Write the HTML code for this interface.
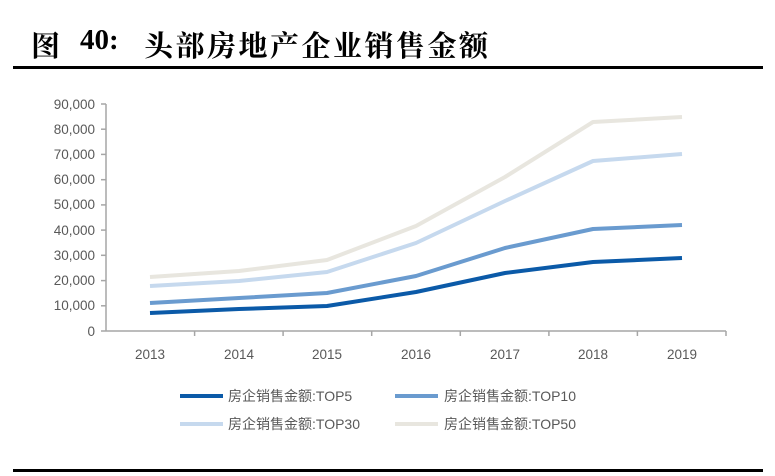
<!DOCTYPE html>
<html><head><meta charset="utf-8"><style>
body{margin:0;background:#fff;width:775px;height:476px;overflow:hidden;position:relative;font-family:"Liberation Sans","Noto Sans CJK SC",sans-serif}
.t{position:absolute;top:24px;font:bold 29px "Liberation Serif","Noto Serif CJK SC",serif;color:#000;white-space:nowrap}
.r{position:absolute;left:13px;width:750px;height:3px;background:#000}
</style></head><body>
<div class="t" style="left:31px">图</div>
<div class="t" style="left:80px">40:</div>
<div class="t" style="left:144px;letter-spacing:2.5px">头部房地产企业销售金额</div>
<div class="r" style="top:66px"></div>
<div class="r" style="top:469px"></div>
<svg width="775" height="476" style="position:absolute;left:0;top:0" font-family="Liberation Sans, Noto Sans CJK SC, sans-serif">
<g stroke="#a6a6a6" stroke-width="1.5" fill="none">
<line x1="106" y1="104" x2="106" y2="331"/>
<line x1="106" y1="331" x2="726" y2="331"/>
<g>
<line x1="101" y1="104" x2="106" y2="104"/><line x1="101" y1="129.2" x2="106" y2="129.2"/><line x1="101" y1="154.4" x2="106" y2="154.4"/><line x1="101" y1="179.7" x2="106" y2="179.7"/><line x1="101" y1="204.9" x2="106" y2="204.9"/><line x1="101" y1="230.1" x2="106" y2="230.1"/><line x1="101" y1="255.3" x2="106" y2="255.3"/><line x1="101" y1="280.6" x2="106" y2="280.6"/><line x1="101" y1="305.8" x2="106" y2="305.8"/><line x1="101" y1="331" x2="106" y2="331"/>
<line x1="194.6" y1="331" x2="194.6" y2="336"/><line x1="283.1" y1="331" x2="283.1" y2="336"/><line x1="371.7" y1="331" x2="371.7" y2="336"/><line x1="460.3" y1="331" x2="460.3" y2="336"/><line x1="548.9" y1="331" x2="548.9" y2="336"/><line x1="637.4" y1="331" x2="637.4" y2="336"/><line x1="726" y1="331" x2="726" y2="336"/>
</g></g>
<g font-size="13.5" fill="#595959" text-anchor="end">
<text x="95" y="109">90,000</text><text x="95" y="134">80,000</text><text x="95" y="159">70,000</text><text x="95" y="184">60,000</text><text x="95" y="209">50,000</text><text x="95" y="235">40,000</text><text x="95" y="260">30,000</text><text x="95" y="285">20,000</text><text x="95" y="310">10,000</text><text x="95" y="336">0</text>
</g>
<g font-size="13.5" fill="#595959" text-anchor="middle">
<text x="150" y="359">2013</text><text x="239" y="359">2014</text><text x="327" y="359">2015</text><text x="416" y="359">2016</text><text x="505" y="359">2017</text><text x="593" y="359">2018</text><text x="682" y="359">2019</text>
</g>
<g fill="none" stroke-width="4" stroke-linejoin="round">
<polyline stroke="#e8e6df" points="150,277 239,271 327,260 416,226 505,177 593,122 682,117"/>
<polyline stroke="#c6d9ee" points="150,286 239,281 327,272 416,243 505,201 593,161 682,154"/>
<polyline stroke="#6a9bcf" points="150,303 239,298 327,293 416,276 505,248 593,229 682,225"/>
<polyline stroke="#0b5aa8" points="150,313 239,309 327,306 416,292 505,273 593,262 682,258"/>
</g>
<g stroke-width="4">
<line x1="180" y1="396" x2="223" y2="396" stroke="#0b5aa8"/>
<line x1="395" y1="396" x2="438" y2="396" stroke="#6a9bcf"/>
<line x1="180" y1="424" x2="223" y2="424" stroke="#c6d9ee"/>
<line x1="395" y1="424" x2="438" y2="424" stroke="#e8e6df"/>
</g>
<g font-size="14" fill="#595959">
<text x="228" y="401">房企销售金额:TOP5</text>
<text x="444" y="401">房企销售金额:TOP10</text>
<text x="228" y="429">房企销售金额:TOP30</text>
<text x="444" y="429">房企销售金额:TOP50</text>
</g>
</svg>
</body></html>
